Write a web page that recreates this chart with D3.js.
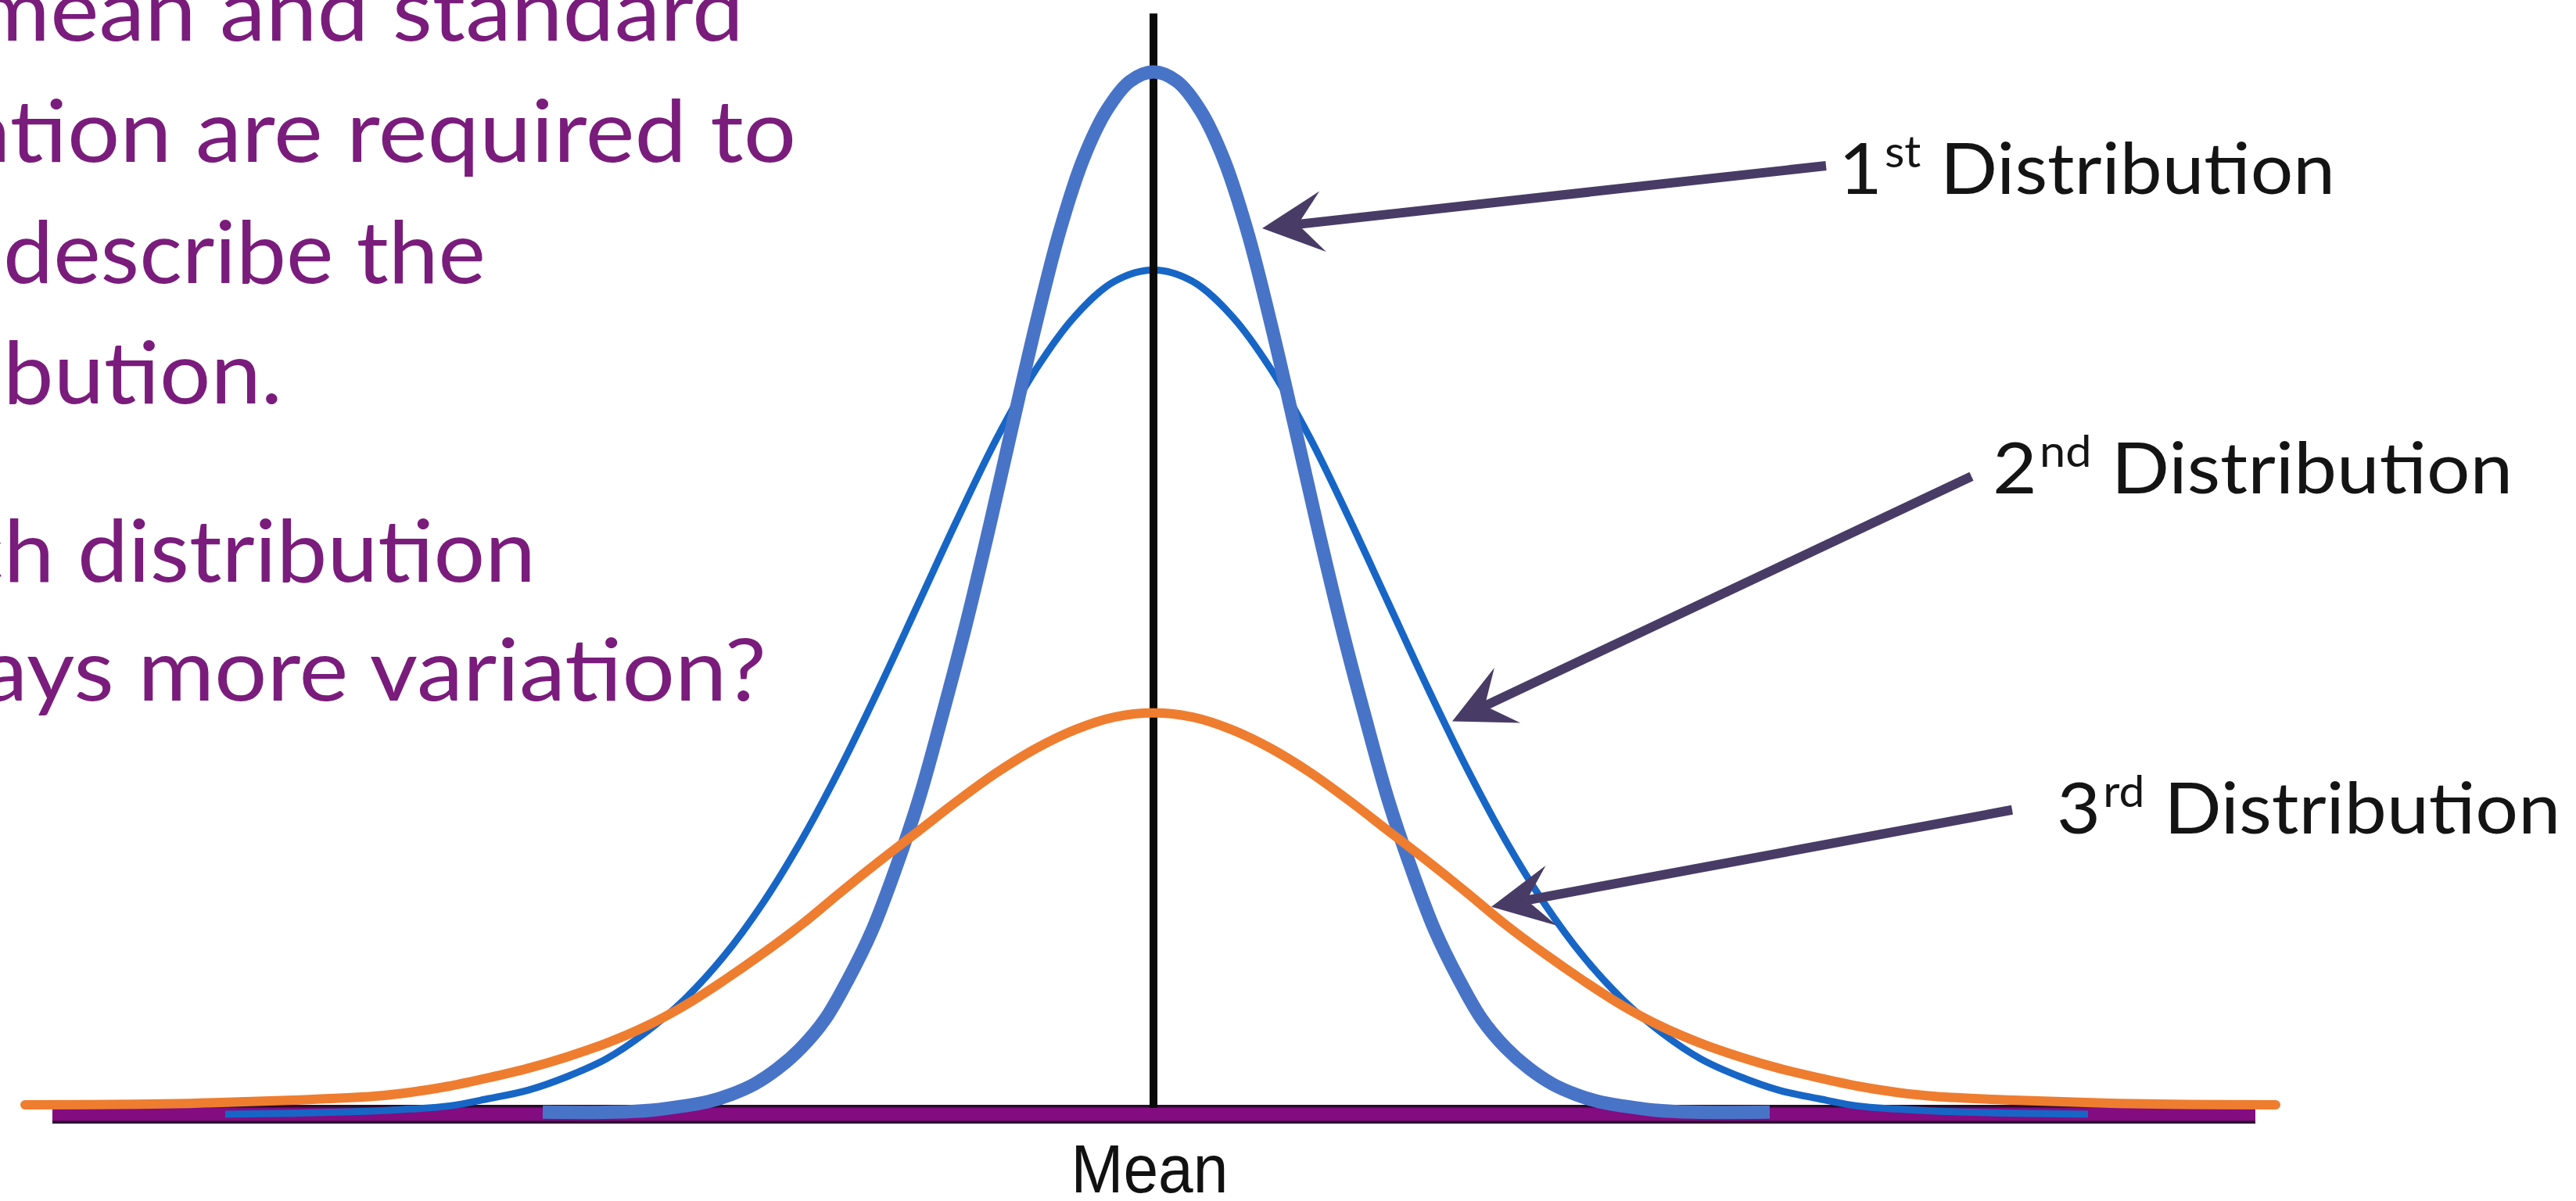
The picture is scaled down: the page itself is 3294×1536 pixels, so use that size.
<!DOCTYPE html>
<html>
<head>
<meta charset="utf-8">
<script src="https://cdn.jsdelivr.net/npm/d3@7"></script>
<style>
  html, body { margin: 0; padding: 0; background: #ffffff; overflow: hidden; }
  svg { display: block; }
</style>
</head>
<body>
<svg id="chart"></svg>
<script>
// ---- Data: curve heights (relative density) at positions measured from the mean ----
const firstDist = [
  [-7.81, 0.002], [-6.90, 0.002], [-6.40, 0.004], [-6.00, 0.008], [-5.70, 0.012],
  [-5.40, 0.019], [-5.10, 0.029], [-4.80, 0.044], [-4.50, 0.064], [-4.20, 0.091],
  [-3.90, 0.130], [-3.60, 0.176], [-3.30, 0.235], [-3.00, 0.302], [-2.70, 0.383],
  [-2.40, 0.469], [-2.10, 0.563], [-1.80, 0.662], [-1.50, 0.759], [-1.20, 0.847],
  [-0.90, 0.916], [-0.60, 0.963], [-0.30, 0.991], [0.00, 1.000], [0.30, 0.991],
  [0.60, 0.963], [0.90, 0.916], [1.20, 0.847], [1.50, 0.759], [1.80, 0.662],
  [2.10, 0.563], [2.40, 0.469], [2.70, 0.383], [3.00, 0.302], [3.30, 0.235],
  [3.60, 0.176], [3.90, 0.130], [4.20, 0.091], [4.50, 0.064], [4.80, 0.044],
  [5.10, 0.029], [5.40, 0.019], [5.70, 0.012], [6.00, 0.008], [6.40, 0.004],
  [6.90, 0.002], [7.88, 0.002]
];

const secondDist = [
  [-11.87, 0.000], [-11.00, 0.001], [-10.00, 0.003], [-9.50, 0.005], [-9.00, 0.008],
  [-8.50, 0.015], [-8.00, 0.023], [-7.50, 0.036], [-7.00, 0.053], [-6.50, 0.078],
  [-6.00, 0.110], [-5.50, 0.151], [-5.00, 0.202], [-4.50, 0.263], [-4.00, 0.333],
  [-3.50, 0.410], [-3.00, 0.491], [-2.50, 0.572], [-2.00, 0.649], [-1.50, 0.715],
  [-1.00, 0.766], [-0.50, 0.799], [0.00, 0.810], [0.50, 0.799], [1.00, 0.766],
  [1.50, 0.715], [2.00, 0.649], [2.50, 0.572], [3.00, 0.491], [3.50, 0.410],
  [4.00, 0.333], [4.50, 0.263], [5.00, 0.202], [5.50, 0.151], [6.00, 0.110],
  [6.50, 0.078], [7.00, 0.053], [7.50, 0.036], [8.00, 0.023], [8.50, 0.015],
  [9.00, 0.008], [9.50, 0.005], [10.00, 0.003], [11.00, 0.001], [11.95, 0.000]
];

const thirdDist = [
  [-14.43, 0.009], [-13.00, 0.0095], [-12.00, 0.011], [-11.00, 0.0135], [-10.00, 0.017],
  [-9.50, 0.021], [-9.00, 0.027], [-8.50, 0.035], [-8.00, 0.044], [-7.50, 0.055],
  [-7.00, 0.068], [-6.50, 0.084], [-6.00, 0.104], [-5.50, 0.128], [-5.00, 0.154],
  [-4.50, 0.182], [-4.00, 0.213], [-3.50, 0.243], [-3.00, 0.272], [-2.50, 0.301],
  [-2.00, 0.328], [-1.50, 0.351], [-1.00, 0.369], [-0.50, 0.381], [0.00, 0.385],
  [0.50, 0.381], [1.00, 0.369], [1.50, 0.351], [2.00, 0.328], [2.50, 0.301],
  [3.00, 0.272], [3.50, 0.243], [4.00, 0.213], [4.50, 0.182], [5.00, 0.154],
  [5.50, 0.128], [6.00, 0.104], [6.50, 0.084], [7.00, 0.068], [7.50, 0.055],
  [8.00, 0.044], [8.50, 0.035], [9.00, 0.027], [9.50, 0.021], [10.00, 0.017],
  [11.00, 0.0135], [12.00, 0.011], [13.00, 0.0095], [14.35, 0.009]
];

// Horizontal axis extent and the mean marker
const axisExtent = [-14.08, 14.09];
const meanValue = 0;
const meanLineTop = 1.056;
const axisLabel = "Mean";

// Series labels and the arrow that points from each label to its curve
const seriesNames = ["1", "2", "3"];
const seriesSuffix = ["st", "nd", "rd"];
const seriesWord = "Distribution";
const arrowTips = [[1.39, 0.850], [3.82, 0.377], [4.32, 0.199]];
const arrowTails = [[8.60, 0.910], [10.46, 0.612], [10.98, 0.292]];
const labelAnchors = [[8.76, 0.883], [10.73, 0.596], [11.55, 0.269]];

// Question text on the left of the slide
const paragraphLines = [
  "Both mean and standard",
  "deviation are required to",
  "fully describe the",
  "distribution.",
  "Which distribution",
  "displays more variation?"
];
// Ending of each line used to size its glyphs
const paragraphFitText = [
  "and standard", "are required to", "describe the",
  "bution.", "distribution", "more variation?"
];

// ---- Layout ----
const W = 3294, H = 1536;
const svg = d3.select("#chart").attr("width", W).attr("height", H);
svg.append("rect").attr("width", W).attr("height", H).attr("fill", "#ffffff");

const x = d3.scaleLinear().domain([-15, 15]).range([-25, 2975]);
const y = d3.scaleLinear().domain([0, 1]).range([1425, 92]);

const line = d3.line()
  .x(d => x(d[0]))
  .y(d => y(d[1]))
  .curve(d3.curveCatmullRom.alpha(0.5));

// Baseline: dark-edged purple bar
const axisG = svg.append("g");
axisG.append("line")
  .attr("x1", x(axisExtent[0])).attr("x2", x(axisExtent[1]))
  .attr("y1", y(0)).attr("y2", y(0))
  .attr("stroke", "#2c0b2e").attr("stroke-width", 24);
axisG.append("line")
  .attr("x1", x(axisExtent[0])).attr("x2", x(axisExtent[1]))
  .attr("y1", y(0)).attr("y2", y(0))
  .attr("stroke", "#820c80").attr("stroke-width", 17);

// Second distribution (thin blue)
svg.append("path")
  .datum(secondDist)
  .attr("d", line)
  .attr("fill", "none")
  .attr("stroke", "#1766c6")
  .attr("stroke-width", 9)
  .attr("stroke-linejoin", "round");

// Mean marker
svg.append("line")
  .attr("x1", x(meanValue)).attr("x2", x(meanValue))
  .attr("y1", y(meanLineTop)).attr("y2", y(0) - 8)
  .attr("stroke", "#0a0a0a").attr("stroke-width", 10);

// First distribution (thick blue)
svg.append("path")
  .datum(firstDist)
  .attr("d", line)
  .attr("fill", "none")
  .attr("stroke", "#4874c8")
  .attr("stroke-width", 17)
  .attr("stroke-linejoin", "round");

// Third distribution (orange)
svg.append("path")
  .datum(thirdDist)
  .attr("d", line)
  .attr("fill", "none")
  .attr("stroke", "#ee7d30")
  .attr("stroke-width", 12)
  .attr("stroke-linecap", "round")
  .attr("stroke-linejoin", "round");

// Axis label
const meanText = svg.append("text")
  .attr("font-family", "'Liberation Sans', Arial, sans-serif")
  .attr("font-size", 88)
  .attr("fill", "#111111")
  .attr("text-anchor", "middle")
  .text(axisLabel);
{
  const w = meanText.node().getComputedTextLength();
  const s = 201 / w;
  meanText.attr("transform", `translate(${x(meanValue) - 5},1525) scale(${s},1)`);
}

// Arrows with notched heads
const arrowColor = "#483c66";
const headLen = 78, headHalf = 39, notch = 46;
arrowTips.forEach((tipV, i) => {
  const tip = [x(tipV[0]), y(tipV[1])];
  const tail = [x(arrowTails[i][0]), y(arrowTails[i][1])];
  const dx = tail[0] - tip[0], dy = tail[1] - tip[1];
  const len = Math.hypot(dx, dy);
  const ux = dx / len, uy = dy / len;
  const nx = -uy, ny = ux;
  const notchPt = [tip[0] + ux * notch, tip[1] + uy * notch];
  svg.append("line")
    .attr("x1", tail[0]).attr("y1", tail[1])
    .attr("x2", notchPt[0]).attr("y2", notchPt[1])
    .attr("stroke", arrowColor).attr("stroke-width", 12);
  const b1 = [tip[0] + ux * headLen + nx * headHalf, tip[1] + uy * headLen + ny * headHalf];
  const b2 = [tip[0] + ux * headLen - nx * headHalf, tip[1] + uy * headLen - ny * headHalf];
  svg.append("path")
    .attr("d", `M${tip[0]},${tip[1]}L${b1[0]},${b1[1]}L${notchPt[0]},${notchPt[1]}L${b2[0]},${b2[1]}Z`)
    .attr("fill", arrowColor);
});

// Series labels
const labelWidths = [632, 662, 641];
const labelFont = "Lato, 'Open Sans', sans-serif";
seriesNames.forEach((name, i) => {
  const t = svg.append("text")
    .attr("font-family", labelFont)
    .attr("font-size", 92)
    .attr("fill", "#141414");
  t.append("tspan").text(name);
  t.append("tspan").attr("font-size", 56).attr("dy", -34).attr("dx", 3).text(seriesSuffix[i]);
  t.append("tspan").attr("dy", 34).text(" " + seriesWord);
  const w = t.node().getComputedTextLength();
  const s = labelWidths[i] / w;
  t.attr("transform", `translate(${x(labelAnchors[i][0])},${y(labelAnchors[i][1])}) scale(${s},1)`);
});

// Left-hand question text (right-aligned so the visible endings sit in place)
const paraRight = [951, 1018, 621, 361, 685, 980];
const paraFitWidth = [670, 768, 617, 357, 586, 804];
const paraBase = [52, 207, 362, 516, 744, 896];
const paraFont = "Lato, 'Open Sans', sans-serif";
const paraSize = 110;
paragraphLines.forEach((txt, i) => {
  const probe = svg.append("text")
    .attr("font-family", paraFont).attr("font-size", paraSize)
    .text(paragraphFitText[i]);
  const s = paraFitWidth[i] / probe.node().getComputedTextLength();
  probe.remove();
  svg.append("text")
    .attr("font-family", paraFont)
    .attr("font-size", paraSize)
    .attr("fill", "#7a1c7c")
    .attr("text-anchor", "end")
    .attr("transform", `translate(${paraRight[i]},${paraBase[i]}) scale(${s},1)`)
    .text(txt);
});
</script>
</body>
</html>
